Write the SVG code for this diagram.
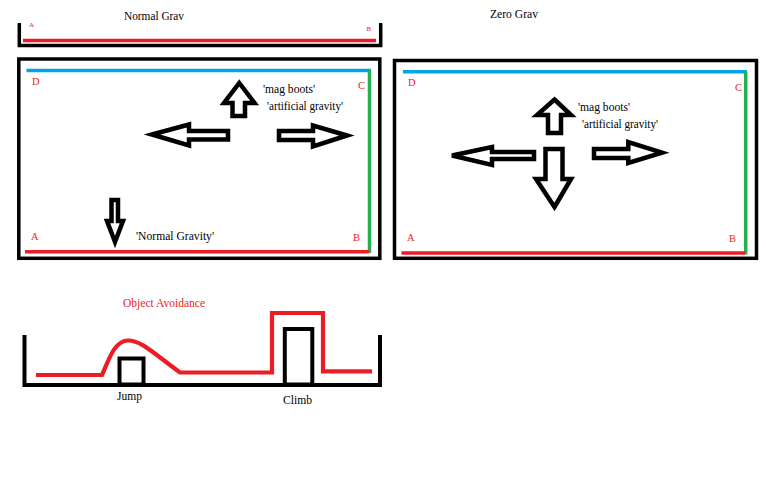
<svg xmlns="http://www.w3.org/2000/svg" width="766" height="499" viewBox="0 0 766 499">
<style>
text{font-family:"Liberation Serif","Times New Roman",serif;font-size:11.5px;fill:#000}
.lbl{fill:#ed1c24;font-size:10.5px}
.tiny{fill:#ed1c24;font-size:7px}
.red{fill:#ed1c24}
.frame{fill:none;stroke:#000;stroke-width:3.5}
.arrow{fill:#fff;stroke:#000;stroke-width:4.5;stroke-linejoin:miter}
.rline{stroke:#ed1c24;stroke-width:3.5;fill:none}
.bline{stroke:#00a2e8;stroke-width:3.5;fill:none}
.gline{stroke:#22b14c;stroke-width:3.5;fill:none}
.blk{fill:none;stroke:#000;stroke-width:4}
</style>
<rect width="766" height="499" fill="#fff"/>

<g id="normal-grav-top">
<text x="124" y="20" textLength="60" lengthAdjust="spacingAndGlyphs">Normal Grav</text>
<path class="frame" d="M19.3 23 V45.5 H380.7 V23"/>
<line class="rline" x1="23" y1="40.5" x2="376" y2="40.5"/>
<text class="tiny" x="29" y="27">A</text>
<text class="tiny" x="366.5" y="31">B</text>
</g>

<g id="zero-grav-title">
<text x="490" y="18" textLength="48" lengthAdjust="spacingAndGlyphs">Zero Grav</text>
</g>

<g id="normal-grav-box">
<rect class="frame" x="18.8" y="59" width="361" height="199.3"/>
<line class="bline" x1="26.5" y1="70.5" x2="371" y2="70.5"/>
<line class="gline" x1="369.5" y1="70.5" x2="369.5" y2="253"/>
<line class="rline" x1="25" y1="251.8" x2="369" y2="251.8"/>
<text class="lbl" x="32" y="85">D</text>
<text class="lbl" x="358" y="89">C</text>
<text class="lbl" x="31" y="240">A</text>
<text class="lbl" x="353" y="241">B</text>
<polygon class="arrow" points="239.3,83 254.5,103 245,103 245,116 232.5,116 232.5,103 224,103"/>
<polygon class="arrow" points="152,134.5 189,124.5 189,131 228,131 228,139.5 189,139.5 189,145.5"/>
<polygon class="arrow" points="347,135.5 313,125.5 313,131 279,131 279,140 313,140 313,146.5"/>
<polygon class="arrow" points="115,242 123,221 118,221 118,200 111.5,200 111.5,221 107,221"/>
<text x="263" y="93" textLength="52" lengthAdjust="spacingAndGlyphs">'mag boots'</text>
<text x="267" y="110" textLength="76" lengthAdjust="spacingAndGlyphs">'artificial gravity'</text>
<text x="136" y="240" textLength="78" lengthAdjust="spacingAndGlyphs">'Normal Gravity'</text>
</g>

<g id="zero-grav-box">
<rect class="frame" x="394.5" y="60.5" width="362" height="197.8"/>
<line class="bline" x1="403" y1="71.7" x2="747" y2="71.7"/>
<line class="gline" x1="745.7" y1="71.7" x2="745.7" y2="254.5"/>
<line class="rline" x1="401.5" y1="253" x2="745" y2="253"/>
<text class="lbl" x="408" y="86">D</text>
<text class="lbl" x="735" y="91">C</text>
<text class="lbl" x="407" y="241">A</text>
<text class="lbl" x="729" y="242">B</text>
<polygon class="arrow" points="554.5,99.5 571,115 561,115 561,133 548,133 548,115 537,115"/>
<polygon class="arrow" points="554.5,207 571,179 562.5,179 562.5,149 545.5,149 545.5,179 536,179"/>
<polygon class="arrow" points="452,155.5 492,147 492,152 534,152 534,159 492,159 492,165"/>
<polygon class="arrow" points="662,152.7 628.3,142 628.3,149 594,149 594,158 628.3,158 628.3,163"/>
<text x="578" y="111" textLength="52" lengthAdjust="spacingAndGlyphs">'mag boots'</text>
<text x="582" y="128" textLength="76" lengthAdjust="spacingAndGlyphs">'artificial gravity'</text>
</g>

<g id="object-avoidance">
<text class="red" x="123" y="307" textLength="82" lengthAdjust="spacingAndGlyphs">Object Avoidance</text>
<path class="blk" d="M24.5 335 V385 H380 V335"/>
<rect class="blk" x="119.5" y="358.5" width="24" height="26"/>
<rect class="blk" x="284.8" y="329" width="27.5" height="55.5"/>
<path d="M36 375 L102 375 C108 362 114 340.5 128 340.5 C141 340.5 152 352 180 372.5 L272 372.5 L272 313 L323 313 L323 371.3 L372 371.3" fill="none" stroke="#ed1c24" stroke-width="4.2"/>
<text x="117" y="400" textLength="25" lengthAdjust="spacingAndGlyphs">Jump</text>
<text x="283" y="404" textLength="29" lengthAdjust="spacingAndGlyphs">Climb</text>
</g>
</svg>
